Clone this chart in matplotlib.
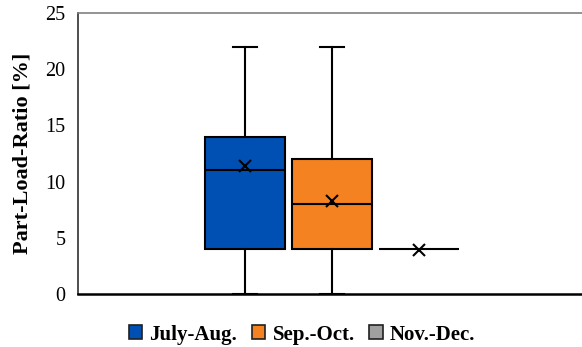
import matplotlib.pyplot as plt
import numpy as np

periods = ['July-Aug.', 'Sep.-Oct.', 'Nov.-Dec.']
colors = ['#0050b4', '#f58220', '#a0a0a0']
# five-number summaries (min, q1, median, q3, max) and mean
mins = [0, 0, 4]
q1s = [4, 4, 4]
medians = [11, 8, 4]
q3s = [14, 12, 4]
maxs = [22, 22, 4]
means = [11.4, 8.3, 3.9]

plt.rcParams['font.family'] = 'Liberation Serif'

fig = plt.figure(figsize=(5.82, 3.47), dpi=100)
ax = fig.add_axes([78 / 582, 1 - 294 / 347, 1.0, (294 - 13) / 347])

stats = []
for i in range(len(periods)):
    stats.append({'label': periods[i], 'whislo': mins[i], 'q1': q1s[i], 'med': medians[i],
                  'q3': q3s[i], 'whishi': maxs[i], 'mean': means[i], 'fliers': []})

pos = [1, 2, 3]
bp = ax.bxp(stats, positions=pos, widths=0.92, patch_artist=True, showmeans=True,
            capwidths=0.28,
            boxprops=dict(edgecolor='black', linewidth=1.5),
            medianprops=dict(color='black', linewidth=1.5),
            whiskerprops=dict(color='black', linewidth=1.5),
            capprops=dict(color='black', linewidth=1.5),
            meanprops=dict(marker='x', markeredgecolor='black', markersize=8, markeredgewidth=1.5))
for patch, c in zip(bp['boxes'], colors):
    patch.set_facecolor(c)
# last period has no spread: show just the line
bp['boxes'][2].set_facecolor('none')
bp['boxes'][2].set_edgecolor('none')
for w in bp['whiskers'][4:]:
    w.set_visible(False)
for cp in bp['caps'][4:]:
    cp.set_visible(False)

ax.set_xlim(-0.92, -0.92 + 582 / 87)
ax.set_ylim(0, 25)
ax.set_yticks([0, 5, 10, 15, 20, 25])
ax.set_xticks([])
ax.tick_params(axis='y', length=0, labelsize=14.5, pad=9)
ax.set_ylabel('Part-Load-Ratio [%]', fontsize=16, fontweight='bold', labelpad=9)

ax.spines['right'].set_visible(False)
ax.spines['top'].set_color('#808080')
ax.spines['top'].set_linewidth(1.2)
ax.spines['left'].set_color('#303030')
ax.spines['left'].set_linewidth(1.2)
ax.spines['bottom'].set_color('black')
ax.spines['bottom'].set_linewidth(1.8)

handles = [plt.Rectangle((0, 0), 1, 1, facecolor=c, edgecolor='#202020', linewidth=1.2) for c in colors]
fig.legend(handles, periods, loc='lower center', bbox_to_anchor=(302 / 582, -0.047), ncol=3,
           frameon=False, prop={'weight': 'bold', 'size': 15}, handlelength=0.65, handleheight=0.65,
           handletextpad=0.35, columnspacing=0.7)

fig.savefig('out.png', dpi=100)
